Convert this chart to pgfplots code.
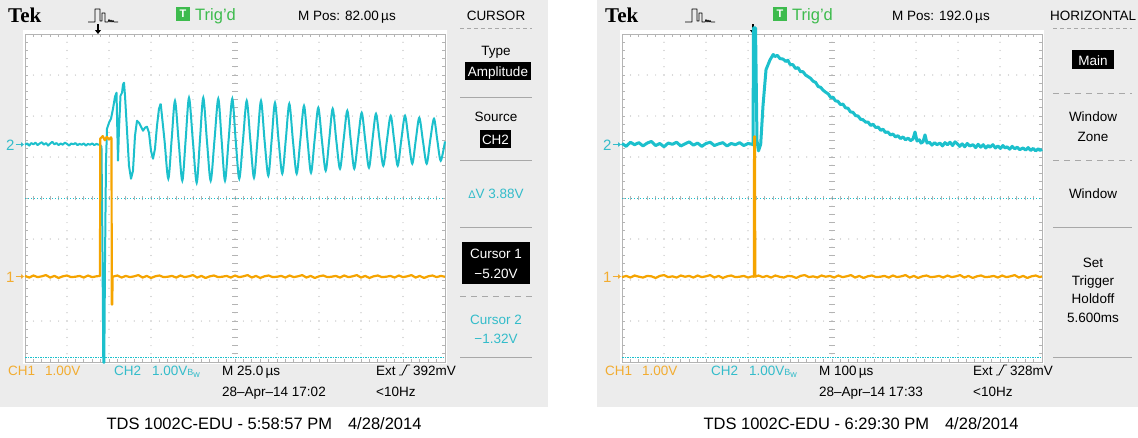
\documentclass[border=0pt]{standalone}
\usepackage{pgfplots}
\pgfplotsset{compat=1.18}
\usepackage{fontspec}
\setmainfont{Liberation Sans}
\newfontfamily\tekserif{Liberation Serif}
\usetikzlibrary{arrows.meta}

\definecolor{panelgray}{HTML}{ECECEC}
\definecolor{chone}{HTML}{F5A400}
\definecolor{chtwo}{HTML}{1CC0CC}
\definecolor{chonetxt}{HTML}{F2AC30}
\definecolor{chtwotxt}{HTML}{33BCCA}
\definecolor{trigd}{HTML}{3DBB4D}
\definecolor{gridc}{HTML}{B4B4B4}
\definecolor{sepc}{HTML}{A8A8A8}

\newcommand\fs[1]{\fontsize{#1}{#1}\selectfont}

\tikzset{
  lbl/.style={anchor=base west, inner sep=0pt, font=\fs{13.5}},
  cbl/.style={anchor=base, inner sep=0pt, font=\fs{13.5}},
}

% panel, screen, graticule and fixed labels of one capture; #1 = horizontal offset
\newcommand\scopeframe[1]{%
\begin{scope}[xshift=#1]
  \fill[panelgray] (0,0) rectangle (548,407);
  \fill[white] (23,30) rectangle (447,364);
  \begin{scope}[shift={(25,198)}, x=42pt, y=41pt]
    \foreach \i in {1,...,9}{\foreach \j in {1,...,39}{\fill[gridc] (\i,-4+\j*0.2) circle[radius=0.6pt];}}
    \foreach \j in {-3,...,3}{\foreach \i in {1,...,49}{\fill[gridc] (\i*0.2,\j) circle[radius=0.6pt];}}
    \foreach \i in {1,...,49}{
      \draw[gridc, line width=0.7pt] (\i*0.2,-0.06) -- (\i*0.2,0.06);
      \draw[gridc, line width=0.7pt] (\i*0.2,4) -- (\i*0.2,3.92);
      \draw[gridc, line width=0.7pt] (\i*0.2,-4) -- (\i*0.2,-3.92);}
    \foreach \j in {1,...,39}{
      \draw[gridc, line width=0.7pt] (4.94,-4+\j*0.2) -- (5.06,-4+\j*0.2);
      \draw[gridc, line width=0.7pt] (0,-4+\j*0.2) -- (0.08,-4+\j*0.2);
      \draw[gridc, line width=0.7pt] (10,-4+\j*0.2) -- (9.92,-4+\j*0.2);}
    \draw[gridc, line width=0.8pt] (0,-4) rectangle (10,4);
  \end{scope}
  % status line
  \node[anchor=base west, inner sep=0pt, font=\tekserif\bfseries\fs{21}] at (8,22) {Tek};
  \draw[line width=0.8pt, line join=round] (88,22) -- (95,22) -- (95,9) -- (100,9) -- (100,21) -- (102,21) -- (102,13) -- (105,13) -- (105,22) -- (108,22)
     -- (109,19.5) -- (110,22) -- (111,20) -- (112,22) -- (113,20.5) -- (114,22) -- (118,22);
  \fill[trigd] (176,7) rectangle (190,21);
  \node[white, inner sep=0pt, font=\bfseries\fs{11}] at (183,14) {T};
  \node[anchor=base west, inner sep=0pt, font=\fs{16.5}, trigd] at (195,20.5) {Trig'd};
  % channel ground markers
  \node[anchor=base west, inner sep=0pt, font=\fs{15}, chtwotxt] at (6,150) {2};
  \draw[chtwotxt, line width=1pt, -{Triangle[length=3pt,width=4.5pt]}] (15.5,144.5) -- (24,144.5);
  \node[anchor=base west, inner sep=0pt, font=\fs{15}, chonetxt] at (6,282) {1};
  \draw[chonetxt, line width=1pt, -{Triangle[length=3pt,width=4.5pt]}] (15.5,276.5) -- (24,276.5);
  % channel settings
  \node[lbl, chonetxt] at (8,375) {CH1};
  \node[lbl, chonetxt] at (45,375) {1.00V};
  \node[lbl, chtwotxt] at (114,375) {CH2};
  \node[lbl, chtwotxt] at (152,375) {1.00V{\fs{9}B\raisebox{-2pt}{w}}};
  \node[lbl] at (376,375) {Ext};
  \draw[line width=0.8pt] (399,375) -- (402,375) -- (407,365) -- (410,365);
  \node[lbl] at (376,396) {<10Hz};
\end{scope}}

\begin{document}
\begin{tikzpicture}[x=1pt, y=-1pt]
\useasboundingbox (0,0) rectangle (1138,437);
\fill[white] (0,0) rectangle (1138,437);

\scopeframe{0pt}
\scopeframe{597pt}

% ---------- capture 1: cursor menu ----------
\draw[-{Triangle[length=4pt,width=6pt]}, line width=1.1pt] (98,24) -- (98,34);
\node[lbl] at (298,20) {M Pos: 82.00\,µs};
\node[cbl] at (496,20) {CURSOR};
\draw[sepc, dash pattern=on 4pt off 3pt] (460,28) -- (532,28);
\node[cbl] at (496,55) {Type};
\fill[black] (465,62) rectangle (531,80);
\node[cbl, white] at (498,76) {Amplitude};
\draw[sepc] (460,97) -- (532,97);
\node[cbl] at (496,121) {Source};
\fill[black] (480,130) rectangle (511,148);
\node[cbl, white] at (495.5,144) {CH2};
\draw[sepc] (460,160) -- (532,160);
\node[cbl, chtwotxt] at (496,198) {{\fs{11}Δ}V 3.88V};
\draw[sepc] (460,227) -- (532,227);
\fill[black] (462,242) rectangle (530,284);
\node[cbl, white] at (496,258) {Cursor 1};
\node[cbl, white] at (496,278) {−5.20V};
\draw[sepc, dash pattern=on 6pt off 5pt] (460,296) -- (532,296);
\node[cbl, chtwotxt] at (496,324) {Cursor 2};
\node[cbl, chtwotxt] at (496,343) {−1.32V};
\draw[sepc] (460,357) -- (532,357);
\node[lbl] at (222,375) {M 25.0\,µs};
\node[lbl] at (222,396) {28–Apr–14 17:02};
\node[lbl] at (413,375) {392mV};
\node[anchor=base, inner sep=0pt, font=\fs{16.5}] at (264,429) {TDS 1002C-EDU - 5:58:57 PM\hspace{16pt}4/28/2014};

% ---------- capture 2: horizontal menu ----------
\draw[-{Triangle[length=4pt,width=6pt]}, line width=1.1pt] (753,24) -- (753,34);
\node[lbl] at (892,20) {M Pos: 192.0\,µs};
\node[cbl] at (1093,20) {HORIZONTAL};
\draw[sepc, dash pattern=on 4pt off 3pt] (1053,28) -- (1132,28);
\fill[black] (1072,50) rectangle (1114,69);
\node[cbl, white] at (1093,65) {Main};
\draw[sepc, dash pattern=on 6pt off 5pt] (1053,93) -- (1132,93);
\node[cbl] at (1093,121) {Window};
\node[cbl] at (1093,141) {Zone};
\draw[sepc, dash pattern=on 6pt off 5pt] (1053,160) -- (1132,160);
\node[cbl] at (1093,198) {Window};
\draw[sepc] (1053,227) -- (1132,227);
\node[cbl] at (1093,267) {Set};
\node[cbl] at (1093,285) {Trigger};
\node[cbl] at (1093,303) {Holdoff};
\node[cbl] at (1093,322) {5.600ms};
\draw[sepc] (1053,357) -- (1132,357);
\node[lbl] at (819,375) {M 100\,µs};
\node[lbl] at (819,396) {28–Apr–14 17:33};
\node[lbl] at (1010,375) {328mV};
\node[anchor=base, inner sep=0pt, font=\fs{16.5}] at (861,429) {TDS 1002C-EDU - 6:29:30 PM\hspace{16pt}4/28/2014};

\begin{scope}[x=1pt, y=1pt]
% ---------- traces, capture 1 (25 us/div, 1 V/div) ----------
\begin{axis}[at={(25pt,-362pt)}, anchor=south west, width=420pt, height=328pt,
  scale only axis, xmin=0, xmax=10, ymin=-4, ymax=4, hide axis, clip=false]
\addplot[chtwo, line width=1pt, dash pattern=on 1pt off 2pt] coordinates {(0,-0.02) (10,-0.02)};
\addplot[chtwo, line width=1pt, dash pattern=on 1.5pt off 1pt] coordinates {(0,-3.90) (10,-3.90)};
% CH2 before and just after the trigger
\addplot[chtwo, line width=2pt, line join=round] table[y expr=\thisrow{v}+1.30] {
x v
0.00 0.00
0.05 0.03
0.10 -0.02
0.15 0.04
0.20 0.01
0.25 0.05
0.30 -0.01
0.35 0.03
0.40 0.06
0.45 0.00
0.50 0.04
0.55 -0.02
0.60 0.03
0.65 0.07
0.70 0.01
0.75 0.04
0.80 -0.01
0.85 0.03
0.90 0.00
0.95 0.05
1.00 0.02
1.05 -0.02
1.10 0.03
1.15 0.01
1.20 0.04
1.25 -0.01
1.30 0.02
1.35 0.00
1.40 0.03
1.45 -0.02
1.50 0.02
1.55 0.00
1.60 0.03
1.65 -0.01
1.70 0.02
1.75 0.00
1.786 0.00
1.821 -0.049
1.845 -2.585
1.864 -5.317
1.888 -5.317
1.905 -2.829
1.929 -0.390
1.952 0.390
2.000 0.537
2.048 0.634
2.095 0.878
2.143 1.171
2.179 1.268
2.214 -0.390
2.238 0.390
2.274 1.195
2.310 1.268
2.333 1.463
2.357 1.512
2.381 1.195
2.429 0.341
2.476 -0.512
2.524 -0.829
2.571 -0.634
2.619 0.220
2.667 0.585
2.714 0.537
2.762 0.439
2.810 0.341
2.857 0.415
2.905 0.439
2.952 0.293
3.000 -0.146
3.048 -0.341
3.095 -0.098
3.143 0.463
3.190 0.878
3.231 1.000
};
% CH2 ringing
\addplot[chtwo, line width=2pt, smooth] table[y expr=\thisrow{v}+1.30] {
x v
3.231 1.000
3.322 0.10
3.412 -0.829
3.492 0.13
3.571 1.073
3.658 0.08
3.745 -0.878
3.825 0.12
3.905 1.146
3.997 0.09
4.088 -0.927
4.167 0.14
4.245 1.146
4.333 0.08
4.421 -0.878
4.512 0.12
4.602 1.122
4.682 0.10
4.762 -0.878
4.849 0.13
4.936 1.122
5.019 0.07
5.102 -0.829
5.191 0.12
5.279 1.073
5.366 0.10
5.452 -0.805
5.536 0.13
5.619 1.073
5.706 0.08
5.793 -0.756
5.873 0.12
5.952 1.024
6.039 0.09
6.126 -0.707
6.210 0.13
6.293 1.000
6.381 0.08
6.469 -0.707
6.556 0.12
6.643 0.951
6.727 0.10
6.810 -0.683
6.897 0.13
6.983 0.902
7.072 0.08
7.160 -0.634
7.243 0.12
7.326 0.878
7.413 0.09
7.500 -0.585
7.587 0.13
7.674 0.829
7.757 0.10
7.840 -0.585
7.929 0.12
8.017 0.780
8.104 0.08
8.190 -0.561
8.274 0.13
8.357 0.756
8.444 0.10
8.531 -0.512
8.619 0.12
8.707 0.707
8.791 0.09
8.874 -0.512
8.961 0.13
9.048 0.707
9.135 0.10
9.221 -0.463
9.305 0.12
9.388 0.659
9.476 0.08
9.564 -0.463
9.651 0.13
9.738 0.634
9.818 0.10
9.898 -0.390
10.000 0.08
};
% CH1
\addplot[chone, line width=2.2pt, line join=round] table[y expr=\thisrow{v}-1.92] {
x v
0.0 0.02
0.1 -0.02
0.2 0.03
0.3 -0.01
0.4 0.01
0.5 0.04
0.6 -0.02
0.7 0.02
0.8 -0.03
0.9 0.01
1.0 0.03
1.1 -0.01
1.2 0.00
1.3 0.02
1.4 -0.02
1.5 0.03
1.6 -0.01
1.7 0.01
1.786 0.02
1.792 3.37
1.85 3.43
1.90 3.33
1.95 3.41
2.00 3.35
2.05 3.40
2.060 3.37
2.066 -0.68
2.078 -0.68
2.084 0.00
2.2 0.03
2.3 -0.02
2.4 0.02
2.5 -0.01
2.6 0.01
2.7 0.04
2.8 -0.02
2.9 0.02
3.0 -0.03
3.1 0.01
3.2 0.03
3.3 -0.01
3.4 0.00
3.5 0.02
3.6 -0.02
3.7 0.03
3.8 -0.01
3.9 0.01
4.0 0.04
4.1 -0.02
4.2 0.02
4.3 -0.03
4.4 0.01
4.5 0.03
4.6 -0.01
4.7 0.00
4.8 0.02
4.9 -0.02
5.0 0.03
5.1 -0.01
5.2 0.01
5.3 0.04
5.4 -0.02
5.5 0.02
5.6 -0.03
5.7 0.01
5.8 0.03
5.9 -0.01
6.0 0.00
6.1 0.02
6.2 -0.02
6.3 0.03
6.4 -0.01
6.5 0.01
6.6 0.04
6.7 -0.02
6.8 0.02
6.9 -0.03
7.0 0.01
7.1 0.03
7.2 -0.01
7.3 0.00
7.4 0.02
7.5 -0.02
7.6 0.03
7.7 -0.01
7.8 0.01
7.9 0.04
8.0 -0.02
8.1 0.02
8.2 -0.03
8.3 0.01
8.4 0.03
8.5 -0.01
8.6 0.00
8.7 0.02
8.8 -0.02
8.9 0.03
9.0 -0.01
9.1 0.01
9.2 0.04
9.3 -0.02
9.4 0.02
9.5 -0.03
9.6 0.01
9.7 0.03
9.8 -0.01
9.9 0.02
10.0 0.00
};
\end{axis}

% ---------- traces, capture 2 (100 us/div, 1 V/div) ----------
\begin{axis}[at={(622pt,-362pt)}, anchor=south west, width=420pt, height=328pt,
  scale only axis, xmin=0, xmax=10, ymin=-4, ymax=4, hide axis, clip=false]
\addplot[chtwo, line width=1pt, dash pattern=on 1pt off 2pt] coordinates {(0,-0.02) (10,-0.02)};
\addplot[chtwo, line width=1pt, dash pattern=on 1.5pt off 1pt] coordinates {(0,-3.90) (10,-3.90)};
% CH2
\addplot[chtwo, line width=3pt, line join=round] table[y expr=\thisrow{v}+1.30] {
x v
0.00 0.03
0.10 -0.04
0.20 0.06
0.30 0.00
0.40 0.05
0.50 -0.03
0.60 0.04
0.70 0.08
0.80 -0.02
0.90 0.03
1.00 -0.05
1.10 0.04
1.20 0.01
1.30 0.06
1.40 -0.03
1.50 0.02
1.60 0.07
1.70 -0.01
1.80 0.04
1.90 -0.04
2.00 0.03
2.10 0.06
2.20 -0.02
2.30 0.02
2.40 0.05
2.50 -0.03
2.60 0.03
2.70 0.00
2.80 0.05
2.90 -0.02
3.00 0.03
3.10 0.01
3.119 0.00
3.131 2.85
3.179 2.85
3.214 0.10
3.250 -0.15
3.302 0.01
3.357 0.95
3.429 1.83
3.524 2.07
3.60 2.20
3.643 2.15
3.70 2.18
3.76 2.10
3.833 2.09
3.90 2.03
3.95 2.06
4.00 1.96
4.071 1.95
4.13 1.86
4.19 1.88
4.25 1.78
4.310 1.78
4.37 1.70
4.43 1.66
4.49 1.62
4.548 1.55
4.61 1.52
4.67 1.42
4.73 1.40
4.786 1.33
4.85 1.28
4.91 1.24
4.97 1.15
5.024 1.16
5.08 1.07
5.14 1.06
5.20 0.98
5.262 0.99
5.32 0.90
5.38 0.89
5.44 0.80
5.500 0.79
5.56 0.71
5.62 0.70
5.68 0.62
5.738 0.61
5.80 0.55
5.86 0.55
5.92 0.47
5.976 0.50
6.04 0.42
6.10 0.43
6.16 0.35
6.214 0.38
6.27 0.30
6.33 0.31
6.39 0.24
6.452 0.26
6.51 0.19
6.57 0.22
6.63 0.15
6.690 0.19
6.75 0.12
6.81 0.16
6.87 0.10
6.929 0.14
6.976 0.31
7.024 0.09
7.08 0.12
7.12 0.04
7.167 0.07
7.214 0.24
7.262 0.04
7.32 0.06
7.38 -0.01
7.44 0.05
7.50 0.00
7.571 0.04
7.63 -0.03
7.69 0.05
7.75 0.00
7.81 0.06
7.87 -0.02
7.93 0.07
7.976 0.03
8.04 -0.04
8.10 0.02
8.16 -0.05
8.22 0.03
8.28 -0.03
8.357 0.00
8.42 -0.07
8.48 0.01
8.54 -0.06
8.60 0.00
8.66 -0.08
8.72 -0.02
8.762 -0.06
8.83 0.00
8.89 -0.08
8.95 -0.03
9.01 -0.09
9.07 -0.02
9.12 -0.08
9.167 -0.05
9.23 -0.11
9.29 -0.04
9.35 -0.10
9.41 -0.06
9.47 -0.12
9.548 -0.08
9.61 -0.13
9.67 -0.07
9.73 -0.14
9.79 -0.09
9.85 -0.15
9.91 -0.10
9.952 -0.14
10.00 -0.11
};
% CH1
\addplot[chone, line width=2.2pt, line join=round] table[y expr=\thisrow{v}-1.92] {
x v
0.0 -0.01
0.1 0.02
0.2 -0.02
0.3 0.03
0.4 0.00
0.5 -0.02
0.6 0.02
0.7 0.01
0.8 -0.03
0.9 0.02
1.0 0.04
1.1 -0.01
1.2 0.01
1.3 -0.02
1.4 0.03
1.5 0.00
1.6 0.02
1.7 -0.02
1.8 0.03
1.9 -0.01
2.0 0.01
2.1 0.04
2.2 -0.02
2.3 0.02
2.4 -0.03
2.5 0.01
2.6 0.03
2.7 -0.01
2.8 0.00
2.9 0.02
3.0 -0.02
3.1 0.01
3.140 0.00
3.146 3.42
3.166 3.42
3.172 0.00
3.25 0.03
3.35 -0.01
3.45 0.02
3.55 -0.02
3.65 0.03
3.75 0.00
3.85 -0.02
3.95 0.02
4.05 0.01
4.15 -0.03
4.25 0.02
4.35 0.04
4.45 -0.01
4.55 0.01
4.65 -0.02
4.75 0.03
4.85 0.00
4.95 0.02
5.05 -0.02
5.15 0.03
5.25 -0.01
5.35 0.01
5.45 0.04
5.55 -0.02
5.65 0.02
5.75 -0.03
5.85 0.01
5.95 0.03
6.05 -0.01
6.15 0.00
6.25 0.02
6.35 -0.02
6.45 0.03
6.55 -0.01
6.65 0.01
6.75 0.04
6.85 -0.02
6.95 0.02
7.05 -0.03
7.15 0.01
7.25 0.03
7.35 -0.01
7.45 0.00
7.55 0.02
7.65 -0.02
7.75 0.03
7.85 -0.01
7.95 0.01
8.05 0.04
8.15 -0.02
8.25 0.02
8.35 -0.03
8.45 0.01
8.55 0.03
8.65 -0.01
8.75 0.00
8.85 0.02
8.95 -0.02
9.05 0.03
9.15 -0.01
9.25 0.01
9.35 0.04
9.45 -0.02
9.55 0.02
9.65 -0.03
9.75 0.01
9.85 0.03
9.95 -0.01
10.0 0.01
};
\end{axis}
\end{scope}
\end{tikzpicture}
\end{document}
